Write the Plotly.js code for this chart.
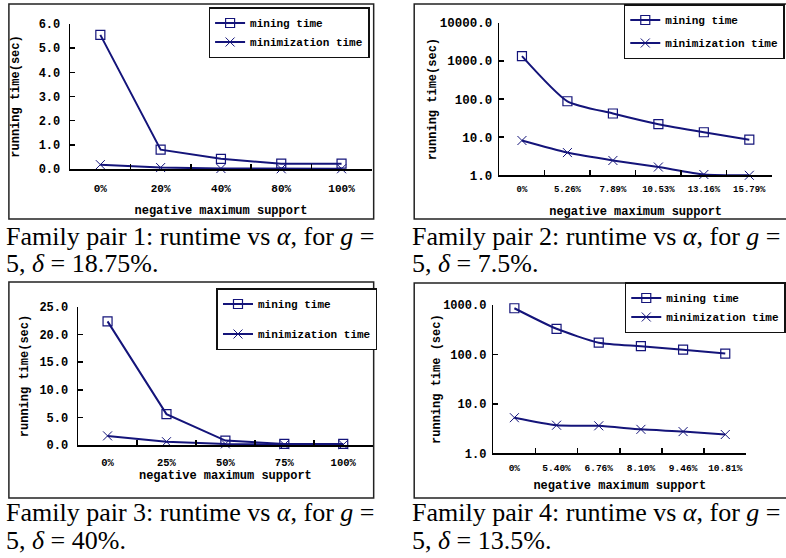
<!DOCTYPE html>
<html><head><meta charset="utf-8">
<script src="https://cdn.plot.ly/plotly-3.0.1.min.js"></script>
<style>html,body{margin:0;padding:0;background:#fff}#chart{width:786px;height:558px}</style>
</head><body><div id="chart"></div>
<script>
// ---- data ----
const seriesNames = ['mining time', 'minimization time'];
const p1Categories = ['0%', '20%', '40%', '80%', '100%'];
const p1Mining = [5.55, 0.80, 0.42, 0.22, 0.22];
const p1Minimization = [0.18, 0.06, 0.02, 0.01, 0.01];
const p2Categories = ['0%', '5.26%', '7.89%', '10.53%', '13.16%', '15.79%'];
const p2Mining = [1350, 88, 42, 22, 13.5, 8.6];
const p2Minimization = [8.2, 3.95, 2.45, 1.65, 1.05, 1.0];
const p3Categories = ['0%', '25%', '50%', '75%', '100%'];
const p3Mining = [22.4, 5.6, 0.8, 0.2, 0.2];
const p3Minimization = [1.65, 0.6, 0.2, 0.05, 0.05];
const p4Categories = ['0%', '5.40%', '6.76%', '8.10%', '9.46%', '10.81%'];
const p4Mining = [860, 330, 173, 147, 125, 104];
const p4Minimization = [5.25, 3.7, 3.6, 3.05, 2.75, 2.4];
const p2TickVals = [1, 10, 100, 1000, 10000];
const p2TickText = ['1.0', '10.0', '100.0', '1000.0', '10000.0'];
const p4TickVals = [1, 10, 100, 1000];
const p4TickText = ['1.0', '10.0', '100.0', '1000.0'];
const xTitle = 'negative maximum support';
const yTitles = ['running time(sec)', 'running time(sec)', 'running time(sec)', 'running time (sec)'];
const captionLine1 = [
  'Family pair 1: runtime vs <i>α</i>, for <i>g</i> =',
  'Family pair 2: runtime vs <i>α</i>, for <i>g</i> =',
  'Family pair 3: runtime vs <i>α</i>, for <i>g</i> =',
  'Family pair 4: runtime vs <i>α</i>, for <i>g</i> ='
];
const captionLine2 = [
  '5, <i>δ</i> = 18.75%.',
  '5, <i>δ</i> = 7.5%.',
  '5, <i>δ</i> = 40%.',
  '5, <i>δ</i> = 13.5%.'
];

// ---- styling helpers ----
const W = 786, H = 558;
const px = p => p / W;
const py = p => 1 - p / H;
const NAVY = '#14147a';
const MONO = '"Liberation Mono", "Courier New", monospace';
const SERIF = '"Liberation Serif", "Times New Roman", serif';

function traces(xa, ya, cats, mining, minim, legendId, shape) {
  const common = {type: 'scatter', mode: 'lines+markers', x: cats, xaxis: xa, yaxis: ya,
    legend: legendId, cliponaxis: false};
  return [
    Object.assign({}, common, {y: mining, name: seriesNames[0], legendgroup: legendId + 'a',
      line: {color: NAVY, width: 2, shape: shape, smoothing: 0.6},
      marker: {symbol: 'square-open', size: 9, color: NAVY, line: {color: NAVY, width: 1.2}}}),
    Object.assign({}, common, {y: minim, name: seriesNames[1], legendgroup: legendId + 'b',
      line: {color: NAVY, width: 2, shape: shape, smoothing: 0.6},
      marker: {symbol: 'x-thin-open', size: 9, color: NAVY, line: {color: NAVY, width: 1}}})
  ];
}

const data = [].concat(
  traces('x', 'y', p1Categories, p1Mining, p1Minimization, 'legend', 'linear'),
  traces('x2', 'y2', p2Categories, p2Mining, p2Minimization, 'legend2', 'spline'),
  traces('x3', 'y3', p3Categories, p3Mining, p3Minimization, 'legend3', 'linear'),
  traces('x4', 'y4', p4Categories, p4Mining, p4Minimization, 'legend4', 'spline')
);

function xAxis(anchor, n, dom, tickSize, standoff, labelStandoff) {
  return {anchor: anchor, type: 'category', domain: dom, range: [-0.5, n - 0.5],
    showline: true, linecolor: '#000', linewidth: 2, ticks: 'inside', ticklen: 5,
    tickwidth: 1.5, tickcolor: '#000', tickson: 'boundaries', showgrid: false, zeroline: false,
    tickangle: 0, ticklabelstandoff: labelStandoff,
    tickfont: {family: MONO, size: tickSize, weight: 'bold', color: '#000'},
    title: {text: xTitle, standoff: standoff, font: {family: MONO, size: 12, weight: 'bold', color: '#000'}}};
}
function yAxis(anchor, dom, extra, title, standoff, tickSize, labelStandoff) {
  return Object.assign({anchor: anchor, domain: dom, showline: true, linecolor: '#000',
    linewidth: 1.5, ticks: 'inside', ticklen: 5, tickwidth: 1.5, tickcolor: '#000',
    showgrid: false, zeroline: false, ticklabelstandoff: labelStandoff,
    tickfont: {family: MONO, size: tickSize, weight: 'bold', color: '#000'},
    title: {text: title, standoff: standoff, font: {family: MONO, size: 12, weight: 'bold', color: '#000'}}}, extra);
}

function legendAt(x, y, gap) {
  return {x: px(x), y: py(y), xanchor: 'left', yanchor: 'top', bgcolor: '#fff',
    bordercolor: '#111', borderwidth: 1.5, itemwidth: 30, tracegroupgap: gap,
    traceorder: 'grouped', font: {family: MONO, size: 11, weight: 'bold', color: '#000'}};
}

const shapes = [
  [9, 4, 378, 219], [419, 4, 800, 219], [9, 282, 378, 498], [419, 283, 800, 498]
].map(b => ({type: 'rect', xref: 'paper', yref: 'paper', x0: px(b[0]), x1: px(b[2]),
  y0: py(b[3]), y1: py(b[1]), line: {color: '#222', width: 1.5}, fillcolor: 'rgba(0,0,0,0)'}));

const capX = [4, 415, 4, 415];
const capY1 = [236, 236, 512, 512];
const capY2 = [263, 263, 540, 540];
const annotations = [];
for (let i = 0; i < 4; i++) {
  annotations.push({xref: 'paper', yref: 'paper', x: px(capX[i]), y: py(capY1[i]), xanchor: 'left',
    yanchor: 'middle', showarrow: false, text: captionLine1[i], font: {family: SERIF, size: 26, color: '#000'}});
  annotations.push({xref: 'paper', yref: 'paper', x: px(capX[i]), y: py(capY2[i]), xanchor: 'left',
    yanchor: 'middle', showarrow: false, text: captionLine2[i], font: {family: SERIF, size: 26, color: '#000'}});
}

const layout = {
  width: W, height: H, autosize: false, margin: {l: 0, r: 0, t: 0, b: 0},
  paper_bgcolor: '#fff', plot_bgcolor: 'rgba(0,0,0,0)', showlegend: true,
  xaxis: xAxis('y', p1Categories.length, [px(71), px(376)], 11, 11, 8),
  yaxis: yAxis('x', [py(169), py(24)], {range: [0, 6], dtick: 1, tickformat: '.1f'}, yTitles[0], 16, 12, 6),
  xaxis2: xAxis('y2', p2Categories.length, [px(505), px(781)], 9, 13, 4),
  yaxis2: yAxis('x2', [py(175.3), py(23)], {type: 'log', range: [0, 4], tickvals: p2TickVals, ticktext: p2TickText}, yTitles[1], 0, 12.5, 3),
  xaxis3: xAxis('y3', p3Categories.length, [px(79), px(377)], 10.5, 0, 6),
  yaxis3: yAxis('x3', [py(445), py(307)], {range: [0, 25], dtick: 5, tickformat: '.1f'}, yTitles[2], 8, 12, 6),
  xaxis4: xAxis('y4', p4Categories.length, [px(499), px(755)], 9.5, 8, 4),
  yaxis4: yAxis('x4', [py(453.3), py(305)], {type: 'log', range: [0, 3], tickvals: p4TickVals, ticktext: p4TickText}, yTitles[3], 0, 12, 3),
  legend: legendAt(211, 7, 0),
  legend2: legendAt(631, 4, 4),
  legend3: legendAt(219, 288, 11),
  legend4: legendAt(632, 282, 0),
  shapes: shapes,
  annotations: annotations
};

Plotly.newPlot('chart', data, layout, {displayModeBar: false, staticPlot: true});
</script>
</body></html>
